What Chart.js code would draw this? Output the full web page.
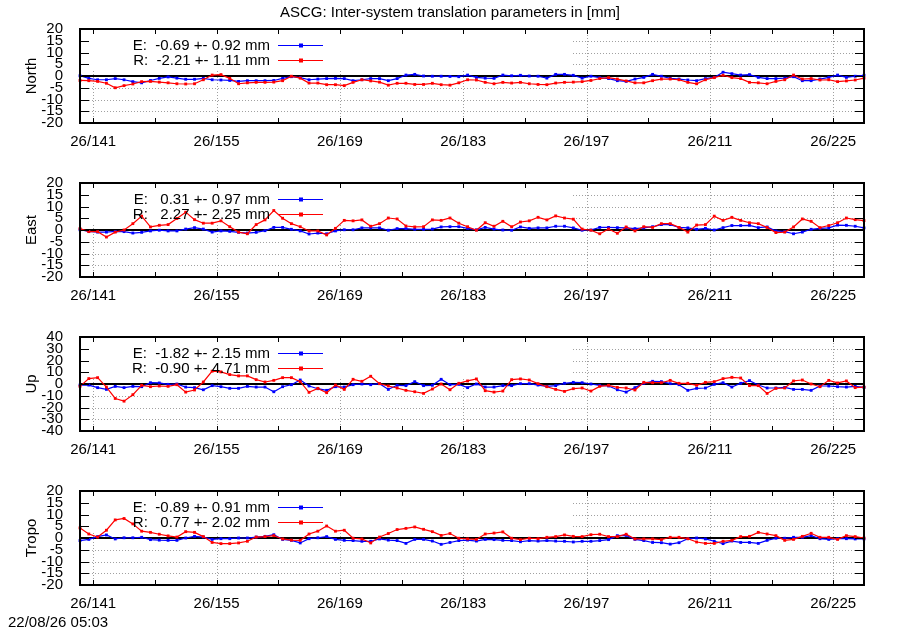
<!DOCTYPE html>
<html>
<head>
<meta charset="utf-8">
<script src="https://cdn.jsdelivr.net/npm/chart.js@4.4.0/dist/chart.umd.min.js"></script>
<style>
  body { margin: 0; background: #fff; width: 900px; height: 630px; position: relative; overflow: hidden;
         font-family: "Liberation Sans", Arial, sans-serif; color: #000; }
  #title { position: absolute; top: 3px; left: 0; width: 900px; text-align: center; font-size: 15px; z-index: 2; }
  #stamp { position: absolute; left: 8px; top: 613px; font-size: 15px; }
  canvas { position: absolute; left: 0; }
</style>
</head>
<body>
<div id="title">ASCG: Inter-system translation parameters in [mm]</div>
<canvas id="c0" width="900" height="154" style="top:9px"></canvas>
<canvas id="c1" width="900" height="154" style="top:163px"></canvas>
<canvas id="c2" width="900" height="154" style="top:317px"></canvas>
<canvas id="c3" width="900" height="154" style="top:471px"></canvas>
<div id="stamp">22/08/26 05:03</div>
<script>
// day of year 2026, one solution per day (first one at 139.5)
const firstDay = 139.5;
const lastDay = 228.5;
const labelDays = [141, 155, 169, 183, 197, 211, 225];
const minorDays = [148, 162, 176, 190, 204, 218];

const northE = [0.1,-1,-1.6,-1.6,-1.1,-1.6,-2.4,-2.9,-1.9,-1, -0.4,-0.9,-1.4,-1.4,-1,-1.6,-1.7,-1.9,-2.3,-2,
  -2,-2,-1.9,-1,-0.3,-0.7,-1.6,-1.3,-1.1,-1, -1.1,-2,-1.6,-1.1,-1.1,-2,-1.1,0.4,0.7,0, -0.1,-0.1,-0.2,
  -0.3,0.4,-0.6,-0.9,-1,0.4,0.1,0.3,0,-0.1, -0.9,0.7,0.7,0.3,-0.9,-0.1,-0.7,-1.1,-2,-2.3,
  -1.3,-0.6,0.7,-0.1,-1,-1.3,-1.7,-2,-1.1,-0.6, 1.6,1,0.4,0.6,-0.6,-1.1,-1.1,-0.9,-0.3,-2, -2,-1.3,-0.6,0.4,-0.6,-0.1,0.3];
const northR = [-1.9,-2,-2.3,-3.1,-5,-4.1,-3.4,-2.4,-2.3,-2.6, -2.9,-3.3,-3.4,-3.3,-1.6,0.4,0.6,-1,-3.3,-2.9,
  -2.7,-2.7,-2.6,-2,-0.1,-0.9,-3,-3,-3.7,-3.7, -4.1,-2.7,-1.6,-2.1,-2.6,-3.9,-3.1,-3.1,-3.6,-3.6, -3.1,-3.7,-3.9,
  -2.9,-1.6,-1.7,-2.7,-3.3,-2.7,-3,-2.7,-3.3,-3.6, -3.7,-3,-2.7,-2.6,-2.4,-1.9,-1.1,-0.7,-1.3,-2.1,
  -2.9,-2.9,-2,-1.3,-1.3,-1.6,-2.7,-3.3,-1.6,-0.7, 0.3,-0.7,-1.1,-2.7,-2.9,-3.3,-2.3,-1.6,0.4,-1.3, -1.1,-1.7,-1.6,-2.4,-2.1,-1.7,-0.9];

const eastE = [0.1,-0.6,-0.9,-0.9,-0.6,-0.7,-1.3,-1,-0.4,-0.1, -0.4,-0.4,0.4,1,0.4,-0.9,-0.4,-0.6,-1,-1.3,
  -1,-0.3,1.1,1.1,0.3,-0.4,-1.7,-1.3,-1.6,-0.4, 0.1,0.1,0.9,0.9,0.9,-0.1,0.6,0.6,0.3,0.3, 0.4,1.3,1.4,1.4,0.7,
  0.1,1.1,0.4,0,-0.1,1.3,0.7,0.9,0.9,1.6, 1.6,0.9,-0.1,0,1.1,1.1,1,0.9,0.6,0.9,
  1.4,2.3,2.3,1.1,0.9,0.3,0.7,0,1,1.9, 1.9,2,1,1.3,-0.4,-0.7,-1.6,-0.9,0.3,0.7, 0.9,2.1,2,1.6,0.9];
const eastR = [0.6,-0.7,-0.7,-3,-0.9,0,2.7,5.9,1.3,2, 2.3,4.9,7.6,4.4,2.9,2.9,3.9,1.4,-0.9,-1.6,
  2.3,4.3,8.3,5,2.7,1.4,-0.4,-0.4,-2.1,0.7, 4.1,3.9,4.3,1.6,2.7,5.1,4.7,1.7,1.3,1.4, 4.3,4.1,5.1,2.9,1.4,
  -0.1,3.1,1.6,3.7,1.4,3.4,3.9,5.4,4.3,6, 5.1,4.6,0.4,-0.1,-1.6,0.4,-1.4,1.3,-0.4,1.4,
  1.1,2.7,2.7,1.1,-0.9,2.1,2.3,5.9,4.1,5.4, 4.1,3.1,2.7,1.1,-1.1,-0.9,1.3,4.7,3.7,1, 1.9,3.1,5.1,4.4,4];

const upE = [-0.9,-0.9,-3.1,-4.6,-2,-3.1,-2,-2.3,1.1,0.9, -0.3,0,-2.6,-3.1,-4.9,-1.4,-2.3,-3.7,-3.7,-2,
  -2.6,-2.6,-6.6,-2.3,-0.6,3.4,-1.7,-4, -5.4,-2.3,-2.6,-0.6,0,-0.6,0.3,-4.6,-1.1,-1.4,2,-1.4,-1.1,4,-0.6,-0.3,-3.1,
  0,-2.6,-2.6,-1.4,-1.4,0.3,0.3,-0.9,-2,-1.4, 0.6,1.4,1.1,0,-1.1,-1.7,-4.9,-6.9,-3.1,0.6,
  2.3,2,0.3,-0.6,-5.4,-3.7,-3.4,-0.3,1.1,-2.6, 0.6,2.9,-0.9,-3.4,-3.4,-2.9,-4.6,-4.6,-5.4,-1.7, -1.7,-2.3,-2.6,-2,-2.9];
const upR = [-2,4.6,5.4,-2.6,-12.3,-14.6,-9.1,-1.1,-2.3,-1.7, -2,-0.6,-6.9,-5.1,1.7,10.9,10.3,8,6.9,6.9,
  3.7,1.7,3.1,5.4,5.4,2,-7.1,-3.7, -7.4,-0.9,-4.6,4,2.3,6.6,0.3,-1.7,-3.4,-5.4,-6.6,-8,-4.3,0,-4.9,0.6,2.6,
  4.3,-5.7,-6.9,-6,3.7,4.3,3.4,0.3,-2.3,-4.6, -6.3,-4,-3.4,-6,-2,-1.1,-2.9,-3.4,-5.1,1.4,
  1.1,1.1,3.1,0.6,0.6,-1.1,1.4,2,4.6,5.7, 5.1,-1.4,-1.4,-8,-3.7,-3.4,2.6,3.4,0,-2.3, 3.1,0.9,2.6,-3.1,-2.6];

const tropoE = [-1.1,-0.6,0.6,1.3,-0.4,0.1,0.1,0.3,-0.7,-0.9, -1,-1,0,0.7,0.4,-0.6,-0.3,-0.3,0,0,
  0.4,0.7,1.4,-0.6,-1,-2.1,-0.3,0.1,0.6,-0.6, -1,-1.1,-1.4,-1.4,-0.4,-0.9,-1.1,-2.3,-0.6,-0.6, -1.3,-2.7,-1.9,-1.1,-0.9,
  -1.3,-0.6,-0.7,-1,-1.1,-1.6,-1.1,-1.3,-1.1,-1.3, -1.4,-1.7,-1.4,-1.4,-1.1,-0.7,1,1.1,-0.6,-1.1,
  -1.9,-2,-2.6,-2,-0.3,0,-0.4,-1.4,-2.4,-1.3, -1.9,-1.9,-2.3,-1,-0.1,-0.1,0.3,0.3,1,-0.3, -0.6,-0.3,-0.3,-0.4,-0.4];
const tropoR = [4.3,1.7,0.4,3.3,7.7,8.3,6,2.9,2.4,1.6, 0.9,0.4,2.7,2.4,0.6,-1.9,-2.4,-2.4,-2.1,-1.4,
  0.4,0.6,1,-0.4,-0.9,-1,1.7,2.9,5.1,2.9, 3.3,-0.1,-0.4,-2.1,0.4,1.9,3.6,4.1,4.7,3.7, 2.7,1.1,1.9,-0.1,-0.4,
  -0.6,1.7,2.1,2.6,-0.1,-0.7,-0.1,-0.3,0.3,0.6, 1.3,0.7,0.6,1.4,1.6,0.6,0.6,1.6,-0.4,-0.4,
  -0.4,-0.7,0.3,0.3,-0.3,-1.7,-2.3,-2.3,-1.4,-1, 0.6,0.7,2.4,1.7,1,-1,-0.6,0.7,2,0.3, 0.3,-0.6,1,0.6,0];

const panels = [
  { id: 'c0', name: 'North', lim: 20, step: 5, e: northE, r: northR,
    keys: ['E:  -0.69 +- 0.92 mm', 'R:  -2.21 +- 1.11 mm'] },
  { id: 'c1', name: 'East', lim: 20, step: 5, e: eastE, r: eastR,
    keys: ['E:   0.31 +- 0.97 mm', 'R:   2.27 +- 2.25 mm'] },
  { id: 'c2', name: 'Up', lim: 40, step: 10, e: upE, r: upR,
    keys: ['E:  -1.82 +- 2.15 mm', 'R:  -0.90 +- 4.71 mm'] },
  { id: 'c3', name: 'Tropo', lim: 20, step: 5, e: tropoE, r: tropoR,
    keys: ['E:  -0.89 +- 0.91 mm', 'R:   0.77 +- 2.02 mm'] },
];

const FONT = '"Liberation Sans", Arial, sans-serif';
const BLUE = '#0000ff';
const RED = '#ff0000';

function toPoints(vals) {
  return vals.map((v, i) => ({ x: firstDay + i, y: v }));
}

function line(ctx, x1, y1, x2, y2) {
  ctx.beginPath();
  ctx.moveTo(x1, y1);
  ctx.lineTo(x2, y2);
  ctx.stroke();
}

// gnuplot style frame: dotted grid hidden under the key, zero line, inward ticks, key
const frame = {
  id: 'frame',
  beforeDatasetsDraw(chart, args, opts) {
    const { ctx, chartArea: a, scales: { x, y } } = chart;
    const keyR = a.left + 493, keyB = a.top + 42;
    ctx.save();
    ctx.strokeStyle = '#a0a0a0';
    ctx.lineWidth = 1;
    ctx.setLineDash([1, 2]);
    labelDays.forEach(d => {
      const px = Math.round(x.getPixelForValue(d)) + 0.5;
      line(ctx, px, px < keyR ? keyB : a.top, px, a.bottom);
    });
    y.ticks.forEach(t => {
      if (t.value === 0 || Math.abs(t.value) === opts.lim) return;
      const py = Math.round(y.getPixelForValue(t.value)) + 0.5;
      line(ctx, py < keyB ? keyR : a.left, py, a.right, py);
    });
    ctx.setLineDash([]);
    ctx.strokeStyle = '#000';
    ctx.lineWidth = 2;
    const z = Math.round(y.getPixelForValue(0));
    line(ctx, a.left, z, a.right, z);
    ctx.restore();
  },
  afterDatasetsDraw(chart, args, opts) {
    const { ctx, chartArea: a, scales: { x, y } } = chart;
    ctx.save();
    ctx.strokeStyle = '#000';
    ctx.lineWidth = 1;
    // x ticks top and bottom
    labelDays.concat(minorDays).forEach(d => {
      const px = Math.round(x.getPixelForValue(d)) + 0.5;
      line(ctx, px, a.top, px, a.top + 5);
      line(ctx, px, a.bottom, px, a.bottom - 5);
    });
    // y ticks left and right
    y.ticks.forEach(t => {
      const py = Math.round(y.getPixelForValue(t.value)) + 0.5;
      line(ctx, a.left, py, a.left + 9, py);
      line(ctx, a.right, py, a.right - 9, py);
    });
    ctx.lineWidth = 2;
    ctx.strokeRect(a.left, a.top, a.right - a.left, a.bottom - a.top);

    // key
    ctx.font = '15px ' + FONT;
    ctx.textAlign = 'right';
    ctx.textBaseline = 'middle';
    [BLUE, RED].forEach((c, i) => {
      const ky = a.top + 16.5 + i * 15;
      ctx.fillStyle = '#000';
      ctx.fillText(opts.keys[i], a.left + 190, ky);
      ctx.strokeStyle = c;
      ctx.fillStyle = c;
      ctx.lineWidth = 1.2;
      line(ctx, a.left + 198, ky, a.left + 243, ky);
      ctx.fillRect(a.left + 219, ky - 2, 4, 4);
    });

    // y axis title
    ctx.fillStyle = '#000';
    ctx.font = '15px ' + FONT;
    ctx.textAlign = 'center';
    ctx.translate(32, (a.top + a.bottom) / 2);
    ctx.rotate(-Math.PI / 2);
    ctx.fillText(opts.name, 0, 0);
    ctx.restore();
  }
};

panels.forEach(p => {
  new Chart(document.getElementById(p.id), {
    type: 'line',
    data: {
      datasets: [
        { label: 'E', data: toPoints(p.e), borderColor: BLUE, backgroundColor: BLUE, order: 2 },
        { label: 'R', data: toPoints(p.r), borderColor: RED, backgroundColor: RED, order: 1 },
      ]
    },
    options: {
      responsive: false,
      animation: false,
      events: [],
      layout: { padding: { top: 20, right: 36, left: 0, bottom: 0 } },
      elements: {
        line: { borderWidth: 1.2, tension: 0 },
        point: { pointStyle: 'rect', radius: 2, borderWidth: 0 }
      },
      datasets: { line: { clip: false } },
      plugins: {
        legend: { display: false },
        tooltip: { enabled: false },
        frame: { keys: p.keys, name: p.name, lim: p.lim }
      },
      scales: {
        x: {
          type: 'linear',
          min: firstDay,
          max: lastDay,
          grid: { display: false },
          border: { display: false },
          afterBuildTicks: s => { s.ticks = labelDays.map(v => ({ value: v })); },
          afterFit: s => { s.height = 40; },
          ticks: {
            color: '#000',
            font: { family: FONT, size: 15 },
            padding: 2,
            maxRotation: 0,
            autoSkip: false,
            callback: v => '26/' + v
          }
        },
        y: {
          min: -p.lim,
          max: p.lim,
          grid: { display: false },
          border: { display: false },
          afterFit: s => { s.width = 80; },
          ticks: {
            stepSize: p.step,
            autoSkip: false,
            color: '#000',
            padding: 9,
            font: { family: FONT, size: 15 }
          }
        }
      }
    },
    plugins: [frame]
  });
});
</script>
</body>
</html>
